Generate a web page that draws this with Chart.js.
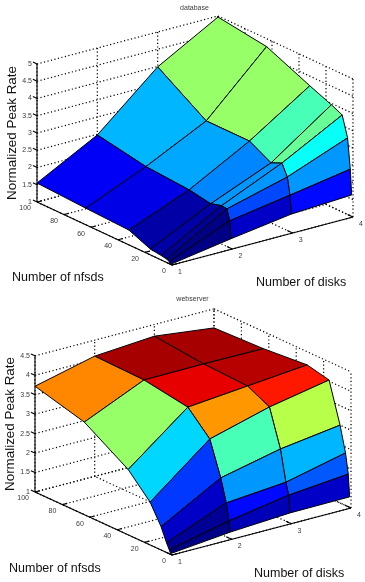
<!DOCTYPE html>
<html>
<head>
<meta charset="utf-8">
<script src="https://cdn.jsdelivr.net/npm/chart.js@4"></script>
<style>
html,body{margin:0;padding:0;background:#fff;width:365px;height:582px;overflow:hidden}
canvas{position:absolute;left:0;display:block}
#c1{top:0}
#c2{top:291px}
</style>
</head>
<body>
<canvas id="c1" width="365" height="291"></canvas>
<canvas id="c2" width="365" height="291"></canvas>
<script>
const nfsds = [1, 2, 4, 8, 16, 32, 64, 100];
const disks = [1, 2, 3, 4];
const nfsdTicks = [0, 20, 40, 60, 80, 100];
const diskTicks = [1, 2, 3, 4];
const databaseRateTicks = [1, 1.5, 2, 2.5, 3, 3.5, 4, 4.5, 5];
const webserverRateTicks = [1, 1.5, 2, 2.5, 3, 3.5, 4, 4.5];

const databaseDisk1 = [1.00, 1.06, 1.10, 1.13, 1.17, 1.43, 1.48, 1.55];
const databaseDisk2 = [1.28, 1.78, 2.09, 2.11, 2.02, 2.13, 2.22, 2.48];
const databaseDisk3 = [1.53, 2.06, 2.55, 2.88, 2.74, 3.08, 3.08, 3.99];
const databaseDisk4 = [1.62, 2.35, 3.22, 3.81, 3.96, 4.22, 4.77, 4.97];

const webserverDisk1 = [1.02, 1.10, 1.25, 1.60, 2.10, 2.68, 3.38, 3.72];
const webserverDisk2 = [1.17, 1.44, 1.87, 2.45, 3.32, 3.88, 4.06, 4.09];
const webserverDisk3 = [1.26, 1.70, 2.00, 2.79, 3.74, 4.02, 4.07, 4.20];
const webserverDisk4 = [1.27, 1.84, 2.35, 3.00, 4.03, 4.16, 4.06, 4.01];

const FONT = '"Liberation Sans", Arial, sans-serif';

function jet(v) {
  const q = Math.min(63, Math.max(0, Math.floor(v * 64)));
  const t = (q + 0.5) / 64;
  const ch = c => Math.round(255 * Math.max(0, Math.min(1, 1.5 - Math.abs(4 * t - c))));
  return 'rgb(' + ch(3) + ',' + ch(2) + ',' + ch(1) + ')';
}

function buildChart(id, cfg) {
  const P = (n, d, z) => ({
    x: cfg.ox + cfg.nx * n + cfg.dx * (d - 1),
    y: cfg.oy + cfg.ny * n + cfg.dy * (d - 1) - cfg.zy * (z - 1)
  });
  const zs = cfg.rates.flat();
  const zMin = Math.min(...zs), zMax = Math.max(...zs);
  const top = cfg.ticks[cfg.ticks.length - 1];
  const nMax = nfsdTicks[nfsdTicks.length - 1];
  const sets = [];

  // surface: nearest face first, because the first dataset is painted last
  for (let j = 0; j < disks.length - 1; j++) {
    for (let i = 0; i < nfsds.length - 1; i++) {
      const r = cfg.rates;
      const pts = [
        P(nfsds[i], disks[j], r[j][i]),
        P(nfsds[i + 1], disks[j], r[j][i + 1]),
        P(nfsds[i + 1], disks[j + 1], r[j + 1][i + 1]),
        P(nfsds[i], disks[j + 1], r[j + 1][i]),
        P(nfsds[i], disks[j], r[j][i])
      ];
      sets.push({
        data: pts, showLine: true, fill: 'shape', tension: 0,
        backgroundColor: jet((r[j][i] - zMin) / (zMax - zMin)),
        borderColor: '#000', borderWidth: 1, pointRadius: 0, borderJoinStyle: 'round'
      });
    }
  }

  const solid = pts => sets.push({ data: pts, showLine: true, fill: false, tension: 0, borderColor: '#000', borderWidth: 1.1, pointRadius: 0 });
  const dotted = pts => sets.push({ data: pts, showLine: true, fill: false, tension: 0, borderColor: '#000', borderWidth: 1.2, borderDash: [1.2, 2.4], pointRadius: 0 });

  // axis lines and tick marks
  solid([P(nMax, 1, 1), P(nMax, 1, top)]);
  solid([P(0, 1, 1), P(nMax, 1, 1)]);
  solid([P(0, 1, 1), P(0, 4, 1)]);
  cfg.ticks.forEach(z => solid([P(nMax, 1, z), P(nMax + 3, 1, z)]));
  nfsdTicks.forEach(n => solid([P(n, 1, 1), P(n, 1.08, 1)]));
  diskTicks.forEach(d => solid([P(0, d, 1), P(4, d, 1)]));

  // back walls and floor grid
  cfg.ticks.forEach(z => {
    dotted([P(nMax, 1, z), P(nMax, 4, z)]);
    dotted([P(nMax, 4, z), P(0, 4, z)]);
  });
  diskTicks.forEach(d => {
    dotted([P(nMax, d, 1), P(nMax, d, top)]);
    dotted([P(0, d, 1), P(nMax, d, 1)]);
  });
  nfsdTicks.forEach(n => {
    dotted([P(n, 1, 1), P(n, 4, 1)]);
    dotted([P(n, 4, 1), P(n, 4, top)]);
  });

  const labels = {
    id: 'labels',
    afterDraw(chart) {
      const ctx = chart.ctx;
      const sx = chart.scales.x, sy = chart.scales.y;
      const px = p => sx.getPixelForValue(p.x), py = p => sy.getPixelForValue(p.y);
      ctx.save();
      ctx.fillStyle = '#3a3a3a';
      ctx.textBaseline = 'middle';
      ctx.font = '7px ' + FONT;
      ctx.textAlign = 'center';
      ctx.fillText(cfg.title, cfg.titleX, cfg.titleY);
      ctx.textAlign = 'right';
      cfg.ticks.forEach(z => {
        const p = P(nMax, 1, z);
        ctx.fillText(String(z), px(p) - 5, py(p));
      });
      nfsdTicks.forEach(n => {
        const p = P(n, 1, 1);
        ctx.fillText(String(n), px(p) - 6, py(p) + 6.5);
      });
      ctx.textAlign = 'center';
      diskTicks.forEach(d => {
        const p = P(0, d, 1);
        ctx.fillText(String(d), px(p) + 8, py(p) + 7);
      });
      ctx.fillStyle = '#111';
      ctx.textBaseline = 'alphabetic';
      ctx.textAlign = 'left';
      ctx.font = '12.5px ' + FONT;
      ctx.fillText('Number of nfsds', cfg.nLabel[0], cfg.nLabel[1]);
      ctx.fillText('Number of disks', cfg.dLabel[0], cfg.dLabel[1]);
      ctx.font = '13.4px ' + FONT;
      ctx.translate(cfg.zLabel[0], cfg.zLabel[1]);
      ctx.rotate(-Math.PI / 2);
      ctx.textAlign = 'center';
      ctx.fillText('Normalized Peak Rate', 0, 0);
      ctx.restore();
    }
  };

  return new Chart(document.getElementById(id), {
    type: 'scatter',
    data: { datasets: sets },
    plugins: [labels],
    options: {
      responsive: false, animation: false, devicePixelRatio: 1,
      layout: { padding: 0 },
      clip: false,
      plugins: { legend: { display: false }, tooltip: { enabled: false }, title: { display: false } },
      scales: {
        x: { type: 'linear', min: 0, max: 365, display: false },
        y: { type: 'linear', min: 0, max: 291, reverse: true, display: false }
      }
    }
  });
}

buildChart('c1', {
  title: 'database', titleX: 194.5, titleY: 8,
  rates: [databaseDisk1, databaseDisk2, databaseDisk3, databaseDisk4],
  ticks: databaseRateTicks,
  ox: 172, oy: 265, nx: -1.35, ny: -0.63, dx: 60.33, dy: -16, zy: 34.5,
  nLabel: [12, 281], dLabel: [256, 286], zLabel: [16, 133]
});
buildChart('c2', {
  title: 'webserver', titleX: 192.5, titleY: 8,
  rates: [webserverDisk1, webserverDisk2, webserverDisk3, webserverDisk4],
  ticks: webserverRateTicks,
  ox: 172, oy: 264, nx: -1.37, ny: -0.63, dx: 59.67, dy: -15.67, zy: 38.9,
  nLabel: [9, 281], dLabel: [254, 286], zLabel: [14, 133]
});
</script>
</body>
</html>
